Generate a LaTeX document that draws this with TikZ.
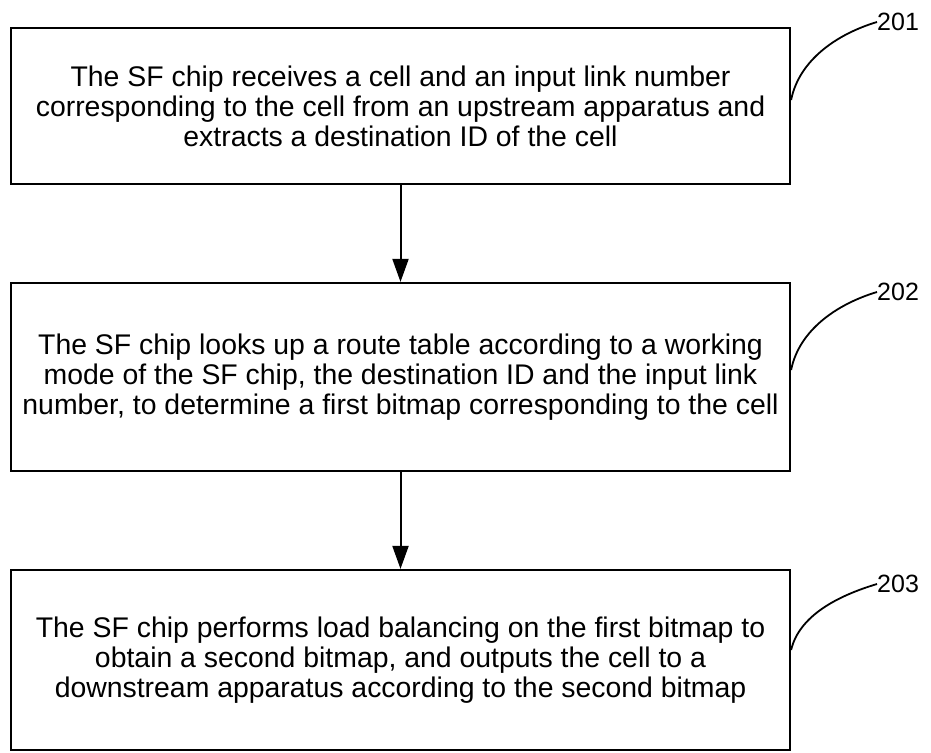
\documentclass[tikz,border=0pt]{standalone}
\usepackage{fontspec}
\setmainfont{Liberation Sans}
\usetikzlibrary{arrows.meta}
\begin{document}
\begin{tikzpicture}[x=1pt,y=-1pt,
  stepbox/.style={draw=black,line width=2.2pt,minimum width=779pt,align=center,inner sep=0pt,
    font=\fontsize{28.4}{30}\selectfont},
  flow/.style={line width=2pt,-{Triangle[length=23pt,width=16pt]}},
  lead/.style={line width=1.8pt},
  reflabel/.style={anchor=west,inner sep=0pt,font=\fontsize{25}{27}\selectfont}]
\useasboundingbox (0,0) rectangle (931,752);
\node[stepbox,minimum height=156pt] (b1) at (400.5,106) {The SF chip receives a cell and an input link number\\corresponding to the cell from an upstream apparatus and\\extracts a destination ID of the cell};
\node[stepbox,minimum height=188pt] (b2) at (400.5,377) {The SF chip looks up a route table according to a working\\mode of the SF chip, the destination ID and the input link\\number, to determine a first bitmap corresponding to the cell};
\node[stepbox,minimum height=180pt] (b3) at (400.5,660) {The SF chip performs load balancing on the first bitmap to\\obtain a second bitmap, and outputs the cell to a\\downstream apparatus according to the second bitmap};
\draw[flow] (b1.south) -- (b2.north);
\draw[flow] (b2.south) -- (b3.north);
\node[reflabel] (l1) at (877,22) {201};
\node[reflabel] (l2) at (877,292) {202};
\node[reflabel] (l3) at (877,584) {203};
\coordinate (c1) at ([yshift=6pt]b1.east);
\coordinate (c2) at ([yshift=7pt]b2.east);
\coordinate (c3) at ([yshift=10pt]b3.east);
\draw[lead] (c1) .. controls ([yshift=40pt,xshift=8pt]c1) and ([xshift=-40pt,yshift=-12pt]l1.west) .. (l1.west);
\draw[lead] (c2) .. controls ([yshift=40pt,xshift=8pt]c2) and ([xshift=-40pt,yshift=-12pt]l2.west) .. (l2.west);
\draw[lead] (c3) .. controls ([yshift=34pt,xshift=8pt]c3) and ([xshift=-40pt,yshift=-12pt]l3.west) .. (l3.west);
\end{tikzpicture}
\end{document}
